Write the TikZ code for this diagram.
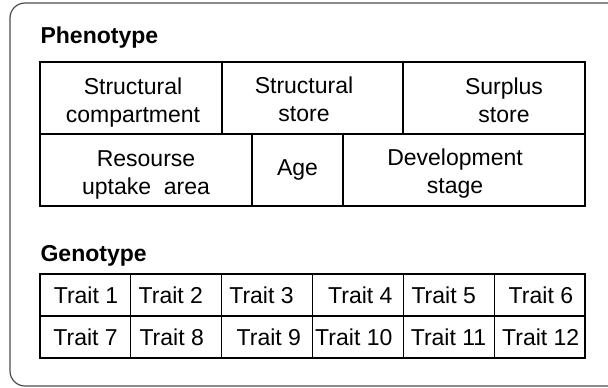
\documentclass[tikz,border=0pt]{standalone}
\usepackage{fontspec}
\setmainfont{Liberation Sans}
\begin{document}
\begin{tikzpicture}[x=0.5pt,y=-0.5pt,line width=0.6pt,
  txt/.style={font=\fontsize{11.5}{14}\selectfont, align=center, inner sep=0pt},
  trait/.style={txt, anchor=base},
  head/.style={font=\fontsize{11.5}{14}\selectfont\bfseries, anchor=base west, inner sep=0pt}]
\useasboundingbox (0,0) rectangle (608,387);
\clip (0,0) rectangle (608,387);
\draw[black!70, rounded corners=7.5pt] (10,3) rectangle (640,386);
% phenotype
\node[head] (phead) at (40,43.5){Phenotype};
\draw (40,62) rectangle (585,206);
\draw (40,134) -- (585,134);
\draw (222,62) -- (222,134);
\draw (403,62) -- (403,134);
\draw (252,134) -- (252,206);
\draw (343,134) -- (343,206);
\node[txt] (ph1) at (133,102.5){Structural\\compartment};
\node[txt] (ph2) at (304,99){Structural\\store};
\node[txt] (ph3) at (504,100.5){Surplus\\store};
\node[txt] (ph4) at (146,175){Resourse\\uptake~ area};
\node[txt] (ph5) at (297.5,170){Age};
\node[txt] (ph6) at (455,173.5){Development\\stage};
% genotype
\node[head] (ghead) at (40,261.5){Genotype};
\draw (40,274) rectangle (585,358);
\draw (40,316) -- (585,316);
\draw (130.8,274) -- (130.8,358);
\draw (221.7,274) -- (221.7,358);
\draw (312.5,274) -- (312.5,358);
\draw (403.3,274) -- (403.3,358);
\draw (494.2,274) -- (494.2,358);
\node[trait] (gt1) at (86,303.3){Trait 1};
\node[trait] (gt2) at (170.8,303.3){Trait 2};
\node[trait] (gt3) at (261.5,303.3){Trait 3};
\node[trait] (gt4) at (360.3,303.3){Trait 4};
\node[trait] (gt5) at (443.7,303.3){Trait 5};
\node[trait] (gt6) at (540.9,303.3){Trait 6};
\node[trait] (gt7) at (85.6,345.6){Trait 7};
\node[trait] (gt8) at (171.7,345.6){Trait 8};
\node[trait] (gt9) at (268.8,345.6){Trait 9};
\node[trait] (gt10) at (353.8,345.6){Trait 10};
\node[trait] (gt11) at (448.5,345.6){Trait 11};
\node[trait] (gt12) at (540.7,345.6){Trait 12};
\end{tikzpicture}
\end{document}
